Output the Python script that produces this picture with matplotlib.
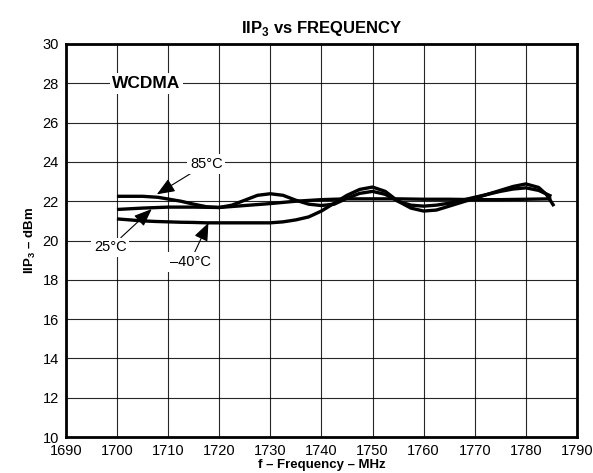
import matplotlib
matplotlib.use("Agg")
import matplotlib.pyplot as plt

plt.rcParams["font.family"] = ["Liberation Sans", "DejaVu Sans"]
plt.rcParams["mathtext.fontset"] = "custom"
plt.rcParams["mathtext.rm"] = "Liberation Sans"
plt.rcParams["mathtext.bf"] = "Liberation Sans:bold"

# ── data ─────────────────────────────────────────────────────────────────────
freq_m40 = [1700, 1702.5, 1705, 1707.5, 1710, 1712.5, 1715, 1717.5, 1720, 1722.5,
            1725, 1727.5, 1730, 1732.5, 1735, 1737.5, 1740, 1742.5, 1745, 1747.5,
            1750, 1752.5, 1755, 1757.5, 1760, 1762.5, 1765, 1767.5, 1770, 1772.5,
            1775, 1777.5, 1780, 1782.5, 1784, 1785.5]
iip3_m40 = [21.10, 21.05, 21.00, 20.97, 20.95, 20.93, 20.92, 20.90, 20.90, 20.90,
            20.90, 20.90, 20.90, 20.95, 21.05, 21.20, 21.50, 21.90, 22.30, 22.60,
            22.72, 22.50, 22.00, 21.65, 21.50, 21.55, 21.75, 21.95, 22.15, 22.35,
            22.55, 22.75, 22.88, 22.70, 22.35, 21.75]

freq_85 = [1700, 1705, 1708, 1712.5, 1715, 1717.5, 1720, 1722.5, 1725, 1727.5,
           1730, 1732.5, 1735, 1737.5, 1740, 1742.5, 1745, 1747.5, 1750, 1752.5,
           1755, 1757.5, 1760, 1762.5, 1765, 1767.5, 1770, 1772.5, 1775, 1777.5,
           1780, 1782.5, 1785]
iip3_85 = [22.25, 22.25, 22.20, 22.00, 21.85, 21.72, 21.68, 21.80, 22.05, 22.30,
           22.38, 22.30, 22.05, 21.85, 21.78, 21.85, 22.15, 22.40, 22.50, 22.35,
           22.00, 21.80, 21.75, 21.80, 21.90, 22.05, 22.20, 22.35, 22.50, 22.62,
           22.68, 22.55, 22.25]

freq_25 = [1700, 1705, 1710, 1715, 1720, 1725, 1730, 1735, 1740, 1745,
           1750, 1755, 1760, 1765, 1770, 1775, 1780, 1785]
iip3_25 = [21.58, 21.65, 21.70, 21.70, 21.68, 21.78, 21.88, 22.00, 22.08, 22.12,
           22.12, 22.12, 22.10, 22.10, 22.08, 22.08, 22.10, 22.12]

x_ticks = list(range(1690, 1791, 10))
y_ticks = list(range(10, 31, 2))

# ── figure ───────────────────────────────────────────────────────────────────
fig = plt.figure(figsize=(5.93, 4.73), dpi=100)
ax = fig.add_axes([0.111, 0.076, 0.862, 0.831])

for f, v in [(freq_m40, iip3_m40), (freq_85, iip3_85), (freq_25, iip3_25)]:
    ax.plot(f, v, color="black", lw=2.4, solid_capstyle="butt", zorder=3)

ax.set_xlim(1690, 1790)
ax.set_ylim(10, 30)
ax.set_xticks(x_ticks)
ax.set_yticks(y_ticks)
ax.grid(True, color="black", lw=0.8, alpha=0.85)
ax.tick_params(length=0, labelsize=10.5)
ax.tick_params(axis="x", pad=5)
ax.tick_params(axis="y", pad=5)
for s in ax.spines.values():
    s.set_linewidth(2.0)

ax.set_title(r"IIP$_\mathbf{3}$ vs FREQUENCY", fontsize=12, fontweight="bold", pad=8)
ax.set_xlabel("f – Frequency – MHz", fontsize=9.5, fontweight="bold", labelpad=1)
ax.set_ylabel(r"IIP$_\mathbf{3}$ – dBm", fontsize=9.5, fontweight="bold", labelpad=3)

box = dict(facecolor="white", edgecolor="none", pad=2)
ax.text(1705.8, 28, "WCDMA", fontsize=12.5, fontweight="bold",
        ha="center", va="center", bbox=box, zorder=4)

arrow = dict(arrowstyle="-|>,head_length=0.55,head_width=0.22", color="black",
             lw=0.8, mutation_scale=20, shrinkA=0, shrinkB=0)
ax.annotate("85°C", xy=(1707.8, 22.35), xytext=(1717.5, 23.9), fontsize=10.5,
            ha="center", va="center", bbox=box, arrowprops=arrow, zorder=4)
ax.annotate("25°C", xy=(1706.8, 21.6), xytext=(1698.7, 19.65), fontsize=10.5,
            ha="center", va="center", bbox=box, arrowprops=arrow, zorder=4)
ax.annotate("–40°C", xy=(1717.9, 20.9), xytext=(1714.3, 18.9), fontsize=10.5,
            ha="center", va="center", bbox=box, arrowprops=arrow, zorder=4)

fig.savefig("out.png", dpi=100)
